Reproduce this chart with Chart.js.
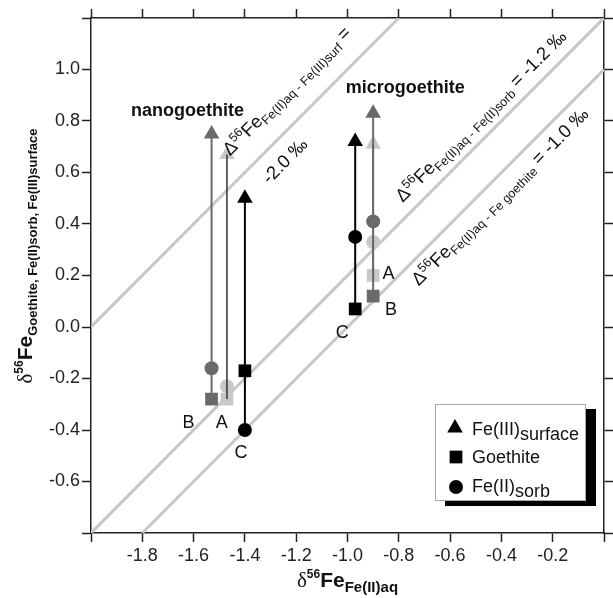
<!DOCTYPE html>
<html lang="en">
<head>
  <meta charset="UTF-8">
  <title>Fe isotope fractionation - goethite</title>
  <script src="https://cdn.jsdelivr.net/npm/chart.js"></script>
  <style>
    html, body {
      margin: 0;
      padding: 0;
      background: #ffffff;
    }
    canvas {
      display: block;
    }
  </style>
</head>
<body>

  <canvas id="isoChart" width="613" height="598"></canvas>

  <script>
    // experiments A, B, C for nanogoethite (first three) and microgoethite (last three)
    const experiments = ['A', 'B', 'C', 'A', 'B', 'C'];
    const feAq      = [-1.47, -1.53, -1.40, -0.90, -0.90, -0.97];
    const feSurface = [ 0.67,  0.75,  0.50,  0.71,  0.83,  0.72];
    const goethite  = [-0.28, -0.28, -0.17,  0.20,  0.12,  0.07];
    const feSorb    = [-0.23, -0.16, -0.40,  0.33,  0.41,  0.35];

    // fractionation lines (end points)
    const surfLine     = [{ x: -2.0, y: 0.0 },  { x: -0.8, y: 1.2 }];
    const sorbLine     = [{ x: -2.0, y: -0.8 }, { x: 0.0,  y: 1.2 }];
    const goethiteLine = [{ x: -1.8, y: -0.8 }, { x: 0.0,  y: 1.0 }];

    const xTicks = [-2.0, -1.8, -1.6, -1.4, -1.2, -1.0, -0.8, -0.6, -0.4, -0.2, 0.0];
    const yTicks = [-0.8, -0.6, -0.4, -0.2, 0.0, 0.2, 0.4, 0.6, 0.8, 1.0, 1.2];

    const SANS = '"Liberation Sans", Arial, Helvetica, sans-serif';
    const SERIF = '"Liberation Serif", "Times New Roman", serif';

    const shade = { A: '#c8c8c8', B: '#6a6a6a', C: '#000000' };
    const stemShade = { A: '#333333', B: '#6a6a6a', C: '#000000' };
    const stemWidth = { A: 1.5, B: 2, C: 2 };

    function pick(arr, exp) {
      return arr.map((v, i) => ({ x: feAq[i], y: v, e: experiments[i] })).filter(p => p.e === exp);
    }

    function markerSets(exp) {
      const base = {
        backgroundColor: shade[exp],
        borderWidth: 0,
        pointHoverRadius: 8
      };
      return [
        { ...base, label: 'Fe(III)surface ' + exp, data: pick(feSurface, exp), pointStyle: 'triangle', pointRadius: 9 },
        { ...base, label: 'Goethite ' + exp, data: pick(goethite, exp), pointStyle: 'rect', pointRadius: 9 },
        { ...base, label: 'Fe(II)sorb ' + exp, data: pick(feSorb, exp), pointStyle: 'circle', pointRadius: 7 }
      ];
    }

    function stemSets(exp) {
      const sets = [];
      experiments.forEach((e, i) => {
        if (e !== exp) return;
        sets.push({
          label: 'stem ' + exp,
          data: [{ x: feAq[i], y: Math.min(goethite[i], feSorb[i]) }, { x: feAq[i], y: feSurface[i] }],
          showLine: true,
          borderColor: stemShade[exp],
          borderWidth: stemWidth[exp],
          pointRadius: 0
        });
      });
      return sets;
    }

    function diagSet(data) {
      return { label: 'line', data: data, showLine: true, borderColor: '#c8c8c8', borderWidth: 3, pointRadius: 0 };
    }

    // first dataset ends up on top
    const datasets = [
      ...markerSets('C'),
      ...stemSets('C'),
      ...markerSets('B'),
      ...stemSets('B'),
      ...stemSets('A'),
      ...markerSets('A'),
      diagSet(surfLine),
      diagSet(sorbLine),
      diagSet(goethiteLine)
    ];

    // text along the fractionation lines: [text, size, dy]
    const diagLabels = [
      { line: surfLine, x: -1.16, y: 0.84, off: -22,
        parts: [['\u0394', 18.5, 0], ['56', 12.5, -7], ['Fe', 18.5, 0], ['Fe(II)aq - Fe(III)surf', 12.5, 4], [' =', 18.5, 0]] },
      { line: surfLine, x: -1.30, y: 0.70, off: 26, parts: [['-2.0 \u2030', 18.5, 0]] },
      { line: sorbLine, x: -0.43, y: 0.77, off: -12,
        parts: [['\u0394', 18.5, 0], ['56', 12.5, -7], ['Fe', 18.5, 0], ['Fe(II)aq - Fe(II)sorb', 12.5, 4], [' = -1.2 \u2030', 18.5, 0]] },
      { line: goethiteLine, x: -0.45, y: 0.55, off: 22,
        parts: [['\u0394', 18.5, 0], ['56', 12.5, -7], ['Fe', 18.5, 0], ['Fe(II)aq - Fe goethite', 12.5, 4], [' = -1.0 \u2030', 18.5, 0]] }
    ];

    const pointLabels = [
      { t: 'B', x: -1.62, y: -0.37 }, { t: 'A', x: -1.49, y: -0.37 }, { t: 'C', x: -1.415, y: -0.485 },
      { t: 'A', x: -0.84, y: 0.21 }, { t: 'B', x: -0.83, y: 0.07 }, { t: 'C', x: -1.02, y: -0.02 }
    ];
    const groupTitles = [
      { t: 'nanogoethite', x: -1.624, y: 0.843 },
      { t: 'microgoethite', x: -0.775, y: 0.932 }
    ];

    function richText(ctx, parts, x, y, center, family, bold) {
      let w = 0;
      parts.forEach(p => {
        ctx.font = (p[3] || bold || '') + ' ' + p[1] + 'px ' + (p[4] || family);
        w += ctx.measureText(p[0]).width;
      });
      let cx = center ? x - w / 2 : x;
      parts.forEach(p => {
        ctx.font = (p[3] || bold || '') + ' ' + p[1] + 'px ' + (p[4] || family);
        ctx.fillText(p[0], cx, y + p[2]);
        cx += ctx.measureText(p[0]).width;
      });
    }

    const annotations = {
      id: 'annotations',
      afterDatasetsDraw(chart) {
        const ctx = chart.ctx;
        const xs = chart.scales.x, ys = chart.scales.y;
        ctx.save();
        ctx.fillStyle = '#111';
        ctx.textBaseline = 'alphabetic';

        diagLabels.forEach(l => {
          const p0 = l.line[0], p1 = l.line[1];
          const ang = Math.atan2(ys.getPixelForValue(p1.y) - ys.getPixelForValue(p0.y),
                                 xs.getPixelForValue(p1.x) - xs.getPixelForValue(p0.x));
          ctx.save();
          ctx.translate(xs.getPixelForValue(l.x), ys.getPixelForValue(l.y));
          ctx.rotate(ang);
          richText(ctx, l.parts, 0, l.off, true, SANS);
          ctx.restore();
        });

        ctx.textAlign = 'left';
        pointLabels.forEach(l => {
          ctx.font = '18px ' + SANS;
          const w = ctx.measureText(l.t).width;
          ctx.fillText(l.t, xs.getPixelForValue(l.x) - w / 2, ys.getPixelForValue(l.y) + 6);
        });
        groupTitles.forEach(l => {
          ctx.font = 'bold 18px ' + SANS;
          const w = ctx.measureText(l.t).width;
          ctx.fillText(l.t, xs.getPixelForValue(l.x) - w / 2, ys.getPixelForValue(l.y) + 6);
        });

        // legend box with drop shadow
        ctx.fillStyle = '#000';
        ctx.fillRect(445, 409, 151, 97);
        ctx.fillStyle = '#fff';
        ctx.fillRect(435, 404, 150, 97);
        ctx.strokeStyle = '#aaa';
        ctx.lineWidth = 1;
        ctx.strokeRect(435.5, 404.5, 150, 96);

        ctx.fillStyle = '#000';
        Chart.helpers.drawPoint(ctx, { pointStyle: 'triangle', radius: 9, rotation: 0, borderWidth: 0 }, 455, 428);
        Chart.helpers.drawPoint(ctx, { pointStyle: 'rect', radius: 9, rotation: 0, borderWidth: 0 }, 456, 457);
        Chart.helpers.drawPoint(ctx, { pointStyle: 'circle', radius: 7, rotation: 0, borderWidth: 0 }, 456, 487);
        ctx.fillStyle = '#111';
        richText(ctx, [['Fe(III)', 18, 0], ['surface', 18, 5]], 472, 435, false, SANS);
        richText(ctx, [['Goethite', 18, 0]], 472, 463, false, SANS);
        richText(ctx, [['Fe(II)', 18, 0], ['sorb', 18, 5]], 472, 492, false, SANS);

        // axis titles
        const ca = chart.chartArea;
        richText(ctx, [['\u03b4', 21, 0, 'normal', SERIF], ['56', 12, -9, 'bold'], ['Fe', 21, 0, 'bold'], ['Fe(II)aq', 15, 5, 'bold']],
          (ca.left + ca.right) / 2, 587, true, SANS);
        ctx.save();
        ctx.translate(32, 256);
        ctx.rotate(-Math.PI / 2);
        richText(ctx, [['\u03b4', 21, 0, 'normal', SERIF], ['56', 12, -9, 'bold'], ['Fe', 21, 0, 'bold'], ['Goethite, Fe(II)sorb, Fe(III)surface', 13, 5, 'bold']],
          0, 0, true, SANS);
        ctx.restore();
        ctx.restore();
      }
    };

    function axis(position, ticks, label, size) {
      return {
        type: 'linear',
        position: position,
        min: ticks[0],
        max: ticks[ticks.length - 1],
        border: { color: '#222', width: 1.5 },
        grid: { drawOnChartArea: false, drawTicks: true, tickLength: 9, tickWidth: 1.5, tickColor: '#222' },
        afterBuildTicks: s => { s.ticks = ticks.map(v => ({ value: v })); },
        ticks: {
          autoSkip: false,
          maxRotation: 0,
          padding: position === 'left' ? 2 : 3,
          color: '#222',
          font: { family: SANS, size: 18 },
          callback: label
        },
        afterFit: s => {
          if (position === 'left' || position === 'right') s.width = size;
          else s.height = size;
        }
      };
    }

    const xLabel = v => (v < -1.95 || v > -0.05) ? '' : v.toFixed(1);
    const yLabel = v => (v < -0.75 || v > 1.15) ? '' : (Math.abs(v) < 1e-9 ? '0.0' : v.toFixed(1));
    const none = () => '';

    new Chart(document.getElementById('isoChart'), {
      type: 'scatter',
      data: { datasets: datasets },
      options: {
        responsive: false,
        animation: false,
        layout: { padding: 0 },
        plugins: {
          legend: { display: false },
          tooltip: { enabled: false }
        },
        scales: {
          x: axis('bottom', xTicks, xLabel, 65),
          x2: axis('top', xTicks, none, 18),
          y: axis('left', yTicks, yLabel, 91),
          y2: axis('right', yTicks, none, 6)
        }
      },
      plugins: [annotations]
    });
  </script>

</body>
</html>
